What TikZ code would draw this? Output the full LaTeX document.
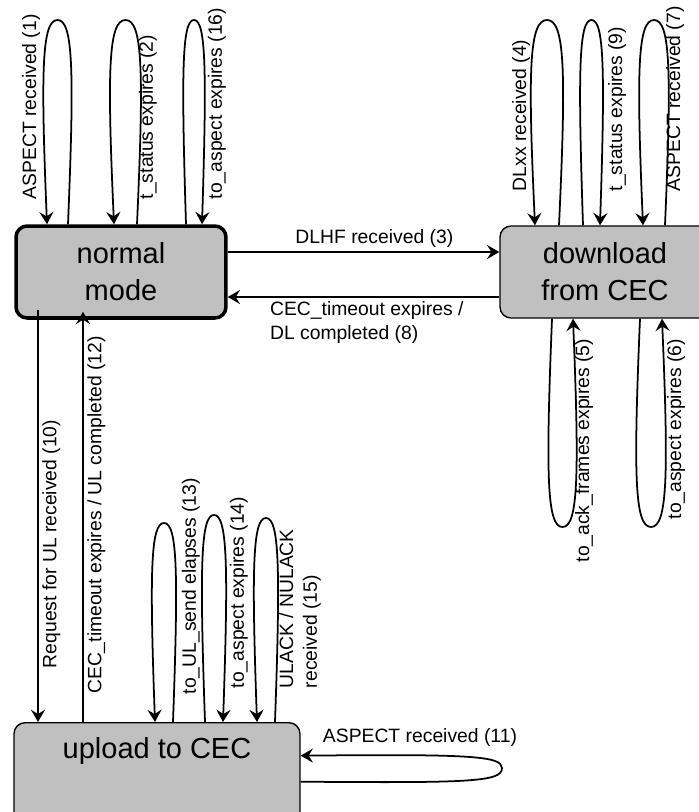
\documentclass[tikz,border=0pt]{standalone}
\usepackage{fontspec}
\setmainfont{Liberation Sans}
\usetikzlibrary{arrows.meta,calc}
\definecolor{stategray}{RGB}{192,192,192}

\tikzset{
  state/.style={draw,fill=stategray,rounded corners=0.22cm,line width=0.8pt,
    minimum width=4.2cm,minimum height=1.84cm,align=center,
    font=\fontsize{16.5}{21}\selectfont},
  trans/.style={line width=1pt,-{Stealth[length=7pt,width=8pt,inset=2.5pt]}},
  lbl/.style={font=\fontsize{11}{13.5}\selectfont,inner sep=2pt}
}

\begin{document}
\begin{tikzpicture}[x=0.02cm,y=-0.02cm]

    \useasboundingbox (0,0) rectangle (698,812);

    % states
    \node[state,line width=2pt] (normal) at (121,272) {normal\\mode};
    \node[state] (download) at (605,272) {download\\from CEC};
    \node[state,anchor=north,minimum width=5.72cm,inner sep=0pt,
      text height=0.72cm,text depth=1.64cm] (upload) at (157,722) {upload to CEC};

    % self loops: node anchor / start leg / arrow leg / apex
    \foreach \n/\a/\b/\t in {normal.north/68/47/20, normal.north/137/114/20,
        normal.north/186/202/20, download.north/559/535/20,
        download.north/583/600/20, download.north/665/643/20,
        download.south/552/573/527, download.south/640/662/527,
        upload.north/173/155/523, upload.north/205/223/515,
        upload.north/275/257/518}{
      \draw[trans] (\a,0 |- \n)
        .. controls ($(\a,\t)!0.25!(\a,0 |- \n)+({0.3*(\a-\b)},0)$)
           and ({\a+0.25*(\a-\b)},\t) .. ({(\a+\b)/2},\t)
        .. controls ({\b+0.25*(\b-\a)},\t)
           and ($(\b,\t)!0.25!(\b,0 |- \n)+({0.3*(\b-\a)},0)$) .. (\b,0 |- \n);
    }

    % loop labels
    \node[lbl,rotate=90,anchor=west] (l1) at (31,203) {ASPECT received (1)};
    \node[lbl,rotate=90,anchor=west] (l2) at (148,203) {t\_status expires (2)};
    \node[lbl,rotate=90,anchor=west] (l16) at (217,203) {to\_aspect expires (16)};
    \node[lbl,rotate=90,anchor=west] (l4) at (521,195) {DLxx received (4)};
    \node[lbl,rotate=90,anchor=west] (l9) at (617,195) {t\_status expires (9)};
    \node[lbl,rotate=90,anchor=west] (l7) at (675,195) {ASPECT received (7)};
    \node[lbl,rotate=90,anchor=east] (l5) at (584,335) {to\_ack\_frames expires (5)};
    \node[lbl,rotate=90,anchor=east] (l6) at (676,335) {to\_aspect expires (6)};
    \node[lbl,rotate=90,anchor=west] (l13) at (191,698) {to\_UL\_send elapses (13)};
    \node[lbl,rotate=90,anchor=west] (l14) at (239,692) {to\_aspect expires (14)};
    \node[lbl,rotate=90,anchor=west,align=left] (l15) at (300,692)
      {ULACK / NULACK\\received (15)};
    \node[lbl] (l11) at (420,737) {ASPECT received (11)};

    % normal <-> download
    \draw[trans] ([yshift=0.4cm]normal.east) --
      node[lbl,above,pos=0.54] {DLHF received (3)} ([yshift=0.4cm]download.west);
    \draw[trans] ([yshift=-0.5cm]download.west) --
      node[lbl,anchor=north west,pos=0.86,align=left]
      {CEC\_timeout expires /\\DL completed (8)} ([yshift=-0.5cm]normal.east);

    % normal <-> upload
    \draw[trans] ($(38,0 |- normal.south)+(0,-10)$) --
      node[lbl,rotate=90,anchor=north west,pos=0.88] {Request for UL received (10)}
      (38,0 |- upload.north);
    \draw[trans] (83,0 |- upload.north) --
      node[lbl,rotate=90,anchor=north west,pos=0.058]
      {CEC\_timeout expires / UL completed (12)}
      ($(83,0 |- normal.south)+(0,-8)$);

    % upload self loop
    \draw[trans] (upload.east) .. controls (470,783) and (502,782) .. (502,768)
      .. controls (502,756) and (470,754) .. ([yshift=0.52cm]upload.east);

\end{tikzpicture}
\end{document}
